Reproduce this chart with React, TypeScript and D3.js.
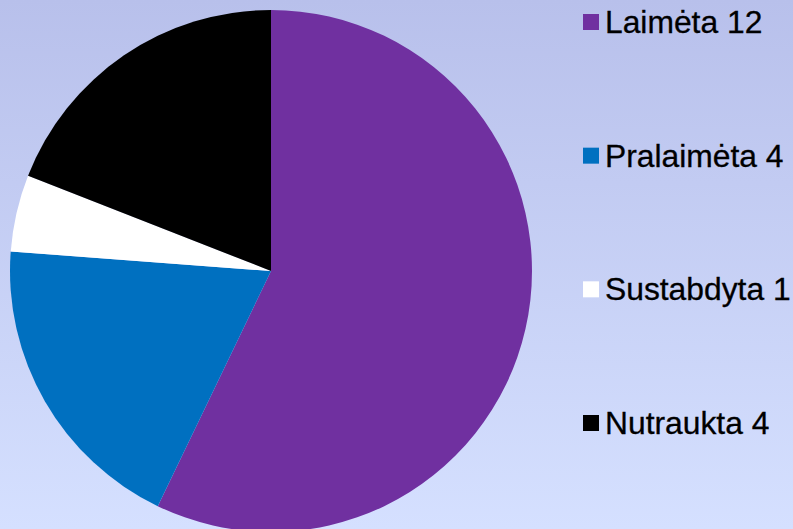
import React from "react";
import * as d3 from "d3";

const categories = ["Laimėta", "Pralaimėta", "Sustabdyta", "Nutraukta"];
const values = [12, 4, 1, 4];
const colors = ["#7030A0", "#0070C0", "#FFFFFF", "#000000"];

const W = 793;
const H = 529;

export default function App() {
  const cx = 271;
  const cy = 271;
  const r = 261;
  const pie = d3.pie<number>().sort(null).value((d) => d)(values);
  const arc = d3.arc<d3.PieArcDatum<number>>().innerRadius(0).outerRadius(r);
  const legendY = d3.scalePoint<number>().domain(d3.range(categories.length)).range([33, 434]);
  return (
    <svg
      width={W}
      height={H}
      style={{ position: "absolute", left: 0, top: 0 }}
      fontFamily="'Liberation Sans', Arial, sans-serif"
    >
      <defs>
        <linearGradient id="bg" x1="0" y1="0" x2="0" y2="1">
          <stop offset="0" stopColor="#b8c0eb" />
          <stop offset="1" stopColor="#d5e0ff" />
        </linearGradient>
      </defs>
      <rect x={0} y={0} width={W} height={H} fill="url(#bg)" />
      <g transform={`translate(${cx},${cy})`}>
        {pie.map((p, i) => (
          <path key={i} d={arc(p) || ""} fill={colors[i]} />
        ))}
      </g>
      {categories.map((c, i) => {
        const y = legendY(i) as number;
        return (
          <g key={c}>
            <rect x={583} y={y - 19} width={16} height={16} fill={colors[i]} />
            <text x={605} y={y} fontSize={31.8} fill="#000" stroke="#000" strokeWidth={0.3}>
              {`${c} ${values[i]}`}
            </text>
          </g>
        );
      })}
    </svg>
  );
}
